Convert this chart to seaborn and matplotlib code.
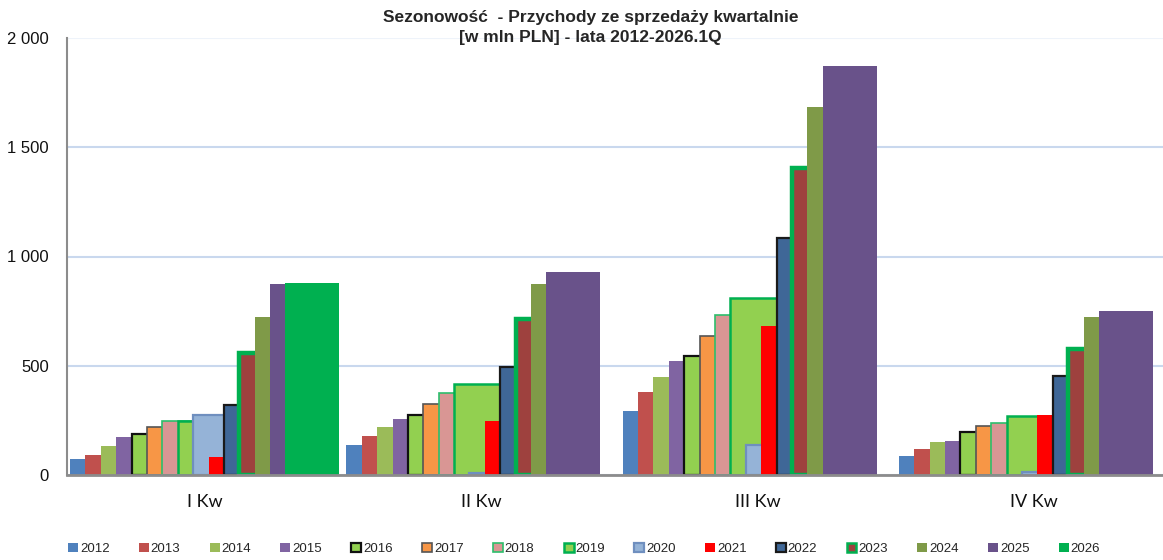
import seaborn as sns
import pandas as pd
import numpy as np
import matplotlib.pyplot as plt
from matplotlib.patches import Patch
from matplotlib.ticker import FuncFormatter

sns.set_theme(style="white")
plt.rcParams['font.family'] = ['Liberation Sans Narrow', 'Liberation Sans', 'DejaVu Sans']

quarters = ["I Kw", "II Kw", "III Kw", "IV Kw"]
years = [str(y) for y in range(2012, 2027)]

# revenue per quarter, mln PLN
v2012 = [73, 139, 291, 85]
v2013 = [93, 180, 378, 119]
v2014 = [131, 221, 447, 151]
v2015 = [172, 257, 523, 155]
v2016 = [189, 273, 543, 198]
v2017 = [221, 325, 634, 224]
v2018 = [248, 375, 730, 239]
v2019 = [247, 416, 811, 270]
v2020 = [276, 9, 136, 15]
v2021 = [81, 247, 681, 274]
v2022 = [319, 495, 1085, 453]
v2023 = [558, 712, 1403, 577]
v2024 = [721, 873, 1684, 724]
v2025 = [873, 928, 1872, 750]
v2026 = [878, np.nan, np.nan, np.nan]

values = [v2012, v2013, v2014, v2015, v2016, v2017, v2018, v2019,
          v2020, v2021, v2022, v2023, v2024, v2025, v2026]

fills = ["#4F81BD", "#C0504D", "#9BBB59", "#8064A2", "#92D050", "#F79646",
         "#D99694", "#92D050", "#95B3D7", "#FF0000", "#3F6797", "#9E413E",
         "#7F9A48", "#69528A", "#00B050"]
edges = [None, None, None, None, "#111111", "#555555",
         "#2DBE6C", "#00B050", "#6F8FBF", None, "#1A1A1A", "#00B050",
         None, None, None]
widths = [0, 0, 0, 0, 1.6, 1.2, 1.2, 1.8, 1.6, 0, 1.6, 3.2, 0, 0, 0]

rows = []
for yr, vals in zip(years, values):
    for q, v in zip(quarters, vals):
        rows.append({"kw": q, "year": yr, "value": v})
df = pd.DataFrame(rows)

fig = plt.figure(figsize=(11.63, 5.6), dpi=100)
ax = fig.add_axes([67 / 1163, 1 - 475 / 560, 1 - 67 / 1163, (475 - 38) / 560])

step = 0.0557
bar_w = 0.195
sns.barplot(data=df, x="kw", y="value", hue="year", hue_order=years, order=quarters,
            palette=dict(zip(years, fills)), width=15 * step, dodge=True,
            saturation=1, errorbar=None, legend=False, ax=ax)

# Excel-style overlapping bars: wide bars, later years drawn over earlier ones
shift = -0.489 + 15 * step / 2
for i, cont in enumerate(ax.containers):
    for p in cont.patches:
        p.set_x(p.get_x() + shift)
        p.set_width(bar_w)
        p.set_facecolor(fills[i])
        if edges[i]:
            p.set_edgecolor(edges[i])
            p.set_linewidth(widths[i])
        else:
            p.set_linewidth(0)

ax.set_xlim(-0.5, -0.5 + (1163 - 67) / 276.3)
ax.set_ylim(0, 2000)
ax.set_yticks([0, 500, 1000, 1500, 2000])
ax.yaxis.set_major_formatter(FuncFormatter(lambda v, p: f"{int(v):,}".replace(",", " ")))
ax.yaxis.grid(True, color="#C9D8EE", linewidth=1.5)
ax.get_ygridlines()[-1].set_color("#EEF3FA")
ax.set_axisbelow(True)
ax.set_xlabel("")
ax.set_ylabel("")
for s in ["top", "right"]:
    ax.spines[s].set_visible(False)
ax.spines["left"].set_color("#8C8C8C")
ax.spines["left"].set_linewidth(1.5)
ax.spines["bottom"].set_color("#8C8C8C")
ax.spines["bottom"].set_linewidth(2)
ax.tick_params(axis="y", length=0, pad=13, labelsize=12, labelcolor="#111111")
ax.tick_params(axis="x", length=0, pad=14)
for lab in ax.get_xticklabels():
    lab.set_fontfamily(["Lato", "DejaVu Sans"])
    lab.set_fontsize(13)
    lab.set_color("#111111")

fig.text(0.508, 0.982, "Sezonowość  - Przychody ze sprzedaży kwartalnie\n[w mln PLN] - lata 2012-2026.1Q",
         ha="center", va="top", fontsize=12.5, fontweight="bold", linespacing=1.45)

handles = []
for i, yr in enumerate(years):
    handles.append(Patch(facecolor=fills[i], edgecolor=edges[i] if edges[i] else fills[i],
                         linewidth=min(widths[i], 1.8) if edges[i] else 0, label=yr))
fig.legend(handles=handles, loc="center left", ncol=15, frameon=False,
           bbox_to_anchor=(68 / 1163, 1 - 549 / 560, 1032 / 1163, 0.0), mode="expand",
           fontsize=9.5, handlelength=0.75, handleheight=0.75, handletextpad=0.15,
           borderaxespad=0, borderpad=0)

plt.savefig("out.png", dpi=100)
